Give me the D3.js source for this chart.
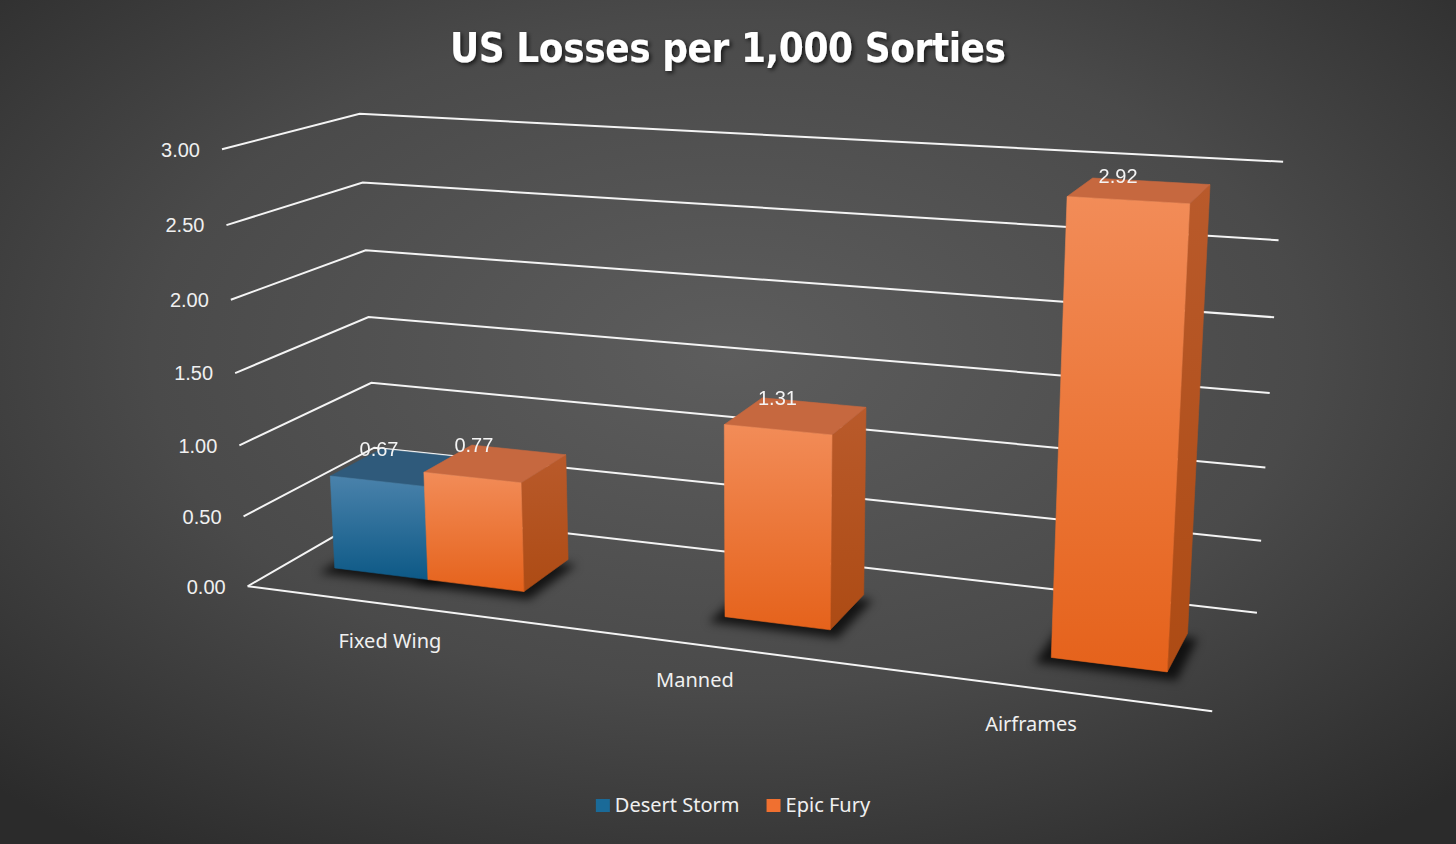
<!DOCTYPE html>
<html lang="en">
<head>
  <meta charset="UTF-8">
  <title>US Losses per 1,000 Sorties</title>
  <script src="https://d3js.org/d3.v7.min.js"></script>
  <style>
    html, body {
      margin: 0;
      padding: 0;
      background: #3a3a3a;
    }
    svg { display: block; }
    .grid {
      fill: none;
      stroke: #f4f4f4;
      stroke-width: 2;
    }
    .tick-label {
      fill: #f0f0f0;
      font: 20px "Liberation Sans", Arial, sans-serif;
    }
    .cat-label, .legend-label {
      fill: #f0f0f0;
      font: 20px "Noto Sans", "Open Sans", sans-serif;
    }
    .value-label {
      fill: #f4f4f4;
      font: 20px "Liberation Sans", Arial, sans-serif;
    }
    .title {
      fill: #ffffff;
      font: bold 40px "Liberation Sans Narrow", "DejaVu Sans Condensed", sans-serif;
    }
  </style>
</head>
<body>
  <div id="chart"></div>
  <script>
    const width = 1456;
    const height = 844;

    // data
    const categories = ["Fixed Wing", "Manned", "Airframes"];
    const seriesNames = ["Desert Storm", "Epic Fury"];
    const desertStorm = [0.67, null, null];
    const epicFury = [0.77, 1.31, 2.92];
    const yTicks = [0, 0.5, 1, 1.5, 2, 2.5, 3];

    const seriesValues = [desertStorm, epicFury];
    const colors = {
      "Desert Storm": { frontTop: "#4a82ab", frontBot: "#0d5986", top: "#2f5a7b", sideTop: "#164e72", sideBot: "#0b4466", key: "#1a6a98" },
      "Epic Fury":    { frontTop: "#f28c58", frontBot: "#e5621b", top: "#c6683f", sideTop: "#b95a2b", sideBot: "#ad4b14", key: "#f07030" }
    };

    // where the corners of the 3D plot box land on the page: [x, y, z] (all 0..1) -> [px, py]
    const frameCorners = [
      [[0, 0, 0], [248, 586]],
      [[1, 0, 0], [1212, 712]],
      [[0, 0, 1], [377, 512]],
      [[1, 0, 1], [1257, 612]],
      [[0, 1, 0], [222, 149]],
      [[0, 1, 1], [360, 114]],
      [[1, 1, 1], [1283, 162]],
      [[0, 0.5, 0], [235, 373]],
      [[0, 0.5, 1], [368, 317]],
      [[1, 0.5, 1], [1270, 393]]
    ];

    // least squares fit of a 3x4 perspective camera (p34 = 1)
    function fitCamera(pts) {
      const n = 11;
      const N = Array.from({ length: n }, () => new Array(n + 1).fill(0));
      const add = (row, b) => {
        for (let i = 0; i < n; i++) {
          for (let j = 0; j < n; j++) N[i][j] += row[i] * row[j];
          N[i][n] += row[i] * b;
        }
      };
      pts.forEach(([[X, Y, Z], [px, py]]) => {
        const x = px / 1000, y = py / 1000;
        add([X, Y, Z, 1, 0, 0, 0, 0, -x * X, -x * Y, -x * Z], x);
        add([0, 0, 0, 0, X, Y, Z, 1, -y * X, -y * Y, -y * Z], y);
      });
      for (let c = 0; c < n; c++) {
        let p = c;
        for (let r = c + 1; r < n; r++) if (Math.abs(N[r][c]) > Math.abs(N[p][c])) p = r;
        [N[c], N[p]] = [N[p], N[c]];
        for (let r = 0; r < n; r++) {
          if (r === c) continue;
          const f = N[r][c] / N[c][c];
          for (let k = c; k <= n; k++) N[r][k] -= f * N[c][k];
        }
      }
      return N.map((r, i) => r[n] / r[i]);
    }

    const m = fitCamera(frameCorners);
    const project = ([X, Y, Z]) => {
      const w = m[8] * X + m[9] * Y + m[10] * Z + 1;
      return [
        1000 * (m[0] * X + m[1] * Y + m[2] * Z + m[3]) / w,
        1000 * (m[4] * X + m[5] * Y + m[6] * Z + m[7]) / w
      ];
    };

    // camera position in box coordinates (null space of P), used for face culling
    function solve3(A, b) {
      const M = A.map((r, i) => [...r, b[i]]);
      for (let c = 0; c < 3; c++) {
        let p = c;
        for (let r = c + 1; r < 3; r++) if (Math.abs(M[r][c]) > Math.abs(M[p][c])) p = r;
        [M[c], M[p]] = [M[p], M[c]];
        for (let r = 0; r < 3; r++) {
          if (r === c) continue;
          const f = M[r][c] / M[c][c];
          for (let k = c; k < 4; k++) M[r][k] -= f * M[c][k];
        }
      }
      return M.map((r, i) => r[3] / r[i]);
    }
    const cam = solve3(
      [[m[0], m[1], m[2]], [m[4], m[5], m[6]], [m[8], m[9], m[10]]],
      [-m[3], -m[7], -1]
    );

    // scales (gap width 100%, gap depth 150%)
    const x0 = d3.scaleBand().domain(categories).range([0, 1])
      .paddingInner(1 / 3).paddingOuter(1 / 6);
    const x1 = d3.scaleBand().domain(seriesNames).range([0, x0.bandwidth()]);
    const y = d3.scaleLinear().domain([0, 3]).range([0, 1]);
    const z = d3.scaleLinear().domain([0, 1]).range([0.3, 0.7]);

    const svg = d3.select("#chart").append("svg")
      .attr("width", width).attr("height", height);

    const defs = svg.append("defs");
    const bg = defs.append("radialGradient").attr("id", "bg")
      .attr("cx", "50%").attr("cy", "42%").attr("r", "72%");
    bg.append("stop").attr("offset", "0%").attr("stop-color", "#5d5d5d");
    bg.append("stop").attr("offset", "55%").attr("stop-color", "#4a4a4a");
    bg.append("stop").attr("offset", "100%").attr("stop-color", "#2b2b2b");

    defs.append("filter").attr("id", "blur")
      .attr("x", "-50%").attr("y", "-50%").attr("width", "200%").attr("height", "200%")
      .append("feGaussianBlur").attr("stdDeviation", 5);

    defs.append("filter").attr("id", "titleShadow")
      .attr("x", "-10%").attr("y", "-30%").attr("width", "120%").attr("height", "160%")
      .append("feDropShadow").attr("dx", 2).attr("dy", 2).attr("stdDeviation", 2)
      .attr("flood-color", "#000").attr("flood-opacity", 0.7);

    seriesNames.forEach((s, i) => {
      const c = colors[s];
      const gf = defs.append("linearGradient").attr("id", "front" + i)
        .attr("x1", 0).attr("y1", 0).attr("x2", 0).attr("y2", 1);
      gf.append("stop").attr("offset", "0%").attr("stop-color", c.frontTop);
      gf.append("stop").attr("offset", "100%").attr("stop-color", c.frontBot);
      const gs = defs.append("linearGradient").attr("id", "side" + i)
        .attr("x1", 0).attr("y1", 0).attr("x2", 0).attr("y2", 1);
      gs.append("stop").attr("offset", "0%").attr("stop-color", c.sideTop);
      gs.append("stop").attr("offset", "100%").attr("stop-color", c.sideBot);
    });

    svg.append("rect").attr("width", width).attr("height", height).attr("fill", "url(#bg)");

    // title
    svg.append("text").attr("class", "title")
      .attr("x", width / 2).attr("y", 62)
      .attr("text-anchor", "middle")
      .attr("textLength", 556).attr("lengthAdjust", "spacing")
      .attr("filter", "url(#titleShadow)")
      .text("US Losses per 1,000 Sorties");

    const line = d3.line();

    // gridlines on left and back walls
    svg.append("g").selectAll("path").data(yTicks).join("path")
      .attr("class", "grid")
      .attr("d", t => line([project([0, y(t), 0]), project([0, y(t), 1]), project([1, y(t), 1])]));

    // floor front edge (category axis)
    svg.append("path").attr("class", "grid")
      .attr("d", line([project([0, 0, 0]), project([1, 0, 0])]));

    // tick labels
    svg.append("g").selectAll("text").data(yTicks).join("text")
      .attr("class", "tick-label")
      .attr("text-anchor", "end")
      .attr("dominant-baseline", "middle")
      .attr("x", t => project([0, y(t), 0])[0] - 22)
      .attr("y", t => project([0, y(t), 0])[1] + 2)
      .text(d3.format(".2f"));

    // category labels
    svg.append("g").selectAll("text").data(categories).join("text")
      .attr("class", "cat-label")
      .attr("text-anchor", "middle")
      .attr("x", c => project([x0(c) + x0.bandwidth() / 2, 0, 0])[0])
      .attr("y", c => project([x0(c) + x0.bandwidth() / 2, 0, 0])[1] + 43)
      .text(c => c);

    // bars
    const bars = [];
    categories.forEach((c, i) => {
      seriesValues.forEach((vals, s) => {
        if (vals[i] == null) return;
        const xa = x0(c) + x1(seriesNames[s]);
        bars.push({ s, value: vals[i], xa, xb: xa + x1.bandwidth(), h: y(vals[i]), za: z(0), zb: z(1) });
      });
    });
    bars.sort((a, b) => Math.abs((b.xa + b.xb) / 2 - cam[0]) - Math.abs((a.xa + a.xb) / 2 - cam[0]));

    // shadows on the floor
    svg.append("g").attr("filter", "url(#blur)").selectAll("path").data(bars).join("path")
      .attr("fill", "#000").attr("fill-opacity", 0.75)
      .attr("transform", "translate(-2,4)")
      .attr("d", b => line([
        project([b.xa - 0.012, 0, b.za - 0.03]), project([b.xb + 0.012, 0, b.za - 0.03]),
        project([b.xb + 0.012, 0, b.zb]), project([b.xa - 0.012, 0, b.zb])
      ]) + "Z");

    const barG = svg.append("g");
    bars.forEach(b => {
      const faces = [];
      if (cam[0] < b.xa) faces.push({ fill: `url(#side${b.s})`, pts: [[b.xa, 0, b.za], [b.xa, 0, b.zb], [b.xa, b.h, b.zb], [b.xa, b.h, b.za]] });
      if (cam[0] > b.xb) faces.push({ fill: `url(#side${b.s})`, pts: [[b.xb, 0, b.za], [b.xb, 0, b.zb], [b.xb, b.h, b.zb], [b.xb, b.h, b.za]] });
      if (cam[1] > b.h) faces.push({ fill: colors[seriesNames[b.s]].top, pts: [[b.xa, b.h, b.za], [b.xb, b.h, b.za], [b.xb, b.h, b.zb], [b.xa, b.h, b.zb]] });
      if (cam[2] < b.za) faces.push({ fill: `url(#front${b.s})`, pts: [[b.xa, 0, b.za], [b.xb, 0, b.za], [b.xb, b.h, b.za], [b.xa, b.h, b.za]] });
      barG.append("g").selectAll("path").data(faces).join("path")
        .attr("fill", f => f.fill)
        .attr("stroke", f => f.fill)
        .attr("stroke-width", 0.6)
        .attr("stroke-linejoin", "round")
        .attr("d", f => line(f.pts.map(project)) + "Z");
    });

    // value labels above the top face
    svg.append("g").selectAll("text").data(bars).join("text")
      .attr("class", "value-label")
      .attr("text-anchor", "middle")
      .attr("x", b => project([(b.xa + b.xb) / 2, b.h / 2, b.za])[0])
      .attr("y", b => project([(b.xa + b.xb) / 2, b.h, b.zb])[1] + 2)
      .text(b => d3.format(".2f")(b.value));

    // legend
    const legend = svg.append("g");
    let lx = 0;
    seriesNames.forEach((s, i) => {
      const g = legend.append("g").attr("transform", `translate(${lx},0)`);
      g.append("rect").attr("x", 0).attr("y", -13).attr("width", 14).attr("height", 13)
        .attr("fill", colors[s].key);
      const t = g.append("text").attr("class", "legend-label").attr("x", 19).attr("y", 0).text(s);
      lx += 19 + t.node().getComputedTextLength() + 27;
    });
    const legendW = lx - 27;
    legend.attr("transform", `translate(${733 - legendW / 2},812)`);
  </script>
</body>
</html>
